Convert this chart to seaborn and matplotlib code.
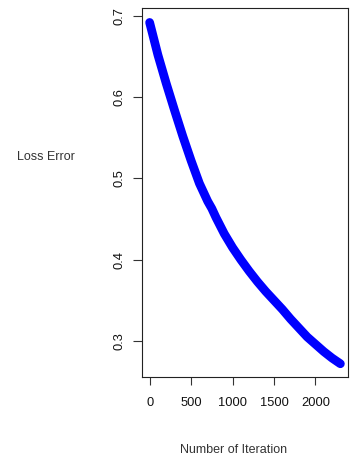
import matplotlib
matplotlib.use("Agg")
import matplotlib.pyplot as plt
import seaborn as sns
import pandas as pd

iterations = [0, 100, 200, 300, 400, 500, 600, 700, 750, 800, 900, 1000, 1100, 1200,
              1300, 1400, 1500, 1600, 1700, 1800, 1900, 2000, 2100, 2200, 2300]
loss = [0.692, 0.652, 0.617, 0.584, 0.552, 0.522, 0.494, 0.472, 0.463, 0.452, 0.432,
        0.415, 0.400, 0.386, 0.373, 0.361, 0.350, 0.339, 0.327, 0.316, 0.305, 0.296,
        0.287, 0.279, 0.272]
x_ticks = [0, 500, 1000, 1500, 2000]
y_ticks = [0.3, 0.4, 0.5, 0.6, 0.7]

df = pd.DataFrame({"iter": iterations, "loss": loss})

sns.set_style("white")
plt.rcParams["font.family"] = ["Liberation Sans", "DejaVu Sans"]

fig = plt.figure(figsize=(3.5, 4.57), dpi=100)
ax = fig.add_axes([142 / 350, 1 - 377 / 457, 206 / 350, 369 / 457])

sns.lineplot(data=df, x="iter", y="loss", ax=ax, color="#0000ff", linewidth=6.3,
             solid_capstyle="round", solid_joinstyle="round")

ax.set_xlim(-92, 2392)
ax.set_ylim(0.2557, 0.7098)
ax.set_xticks(x_ticks)
ax.set_yticks(y_ticks)
ax.set_xticklabels([str(v) for v in x_ticks], fontsize=9.3, color="#111111")
ax.set_yticklabels([f"{v:.1f}" for v in y_ticks], fontsize=9.3, color="#111111",
                   rotation=90, va="center")
ax.tick_params(axis="x", direction="out", length=5.5, width=0.8, color="#333333",
               pad=9, bottom=True)
ax.tick_params(axis="y", direction="out", length=6.5, width=0.8, color="#333333",
               pad=5.5, left=True)
for s in ax.spines.values():
    s.set_visible(True)
    s.set_color("#222222")
    s.set_linewidth(0.8)

ax.set_xlabel("Number of Iteration", fontsize=9, color="#333333")
ax.xaxis.set_label_coords(0.445, -0.1816)
ax.set_ylabel("Loss Error", fontsize=9, color="#333333", rotation=0,
              ha="center", va="center")
ax.yaxis.set_label_coords(-0.466, 0.596)

fig.savefig("out.png", dpi=100)
